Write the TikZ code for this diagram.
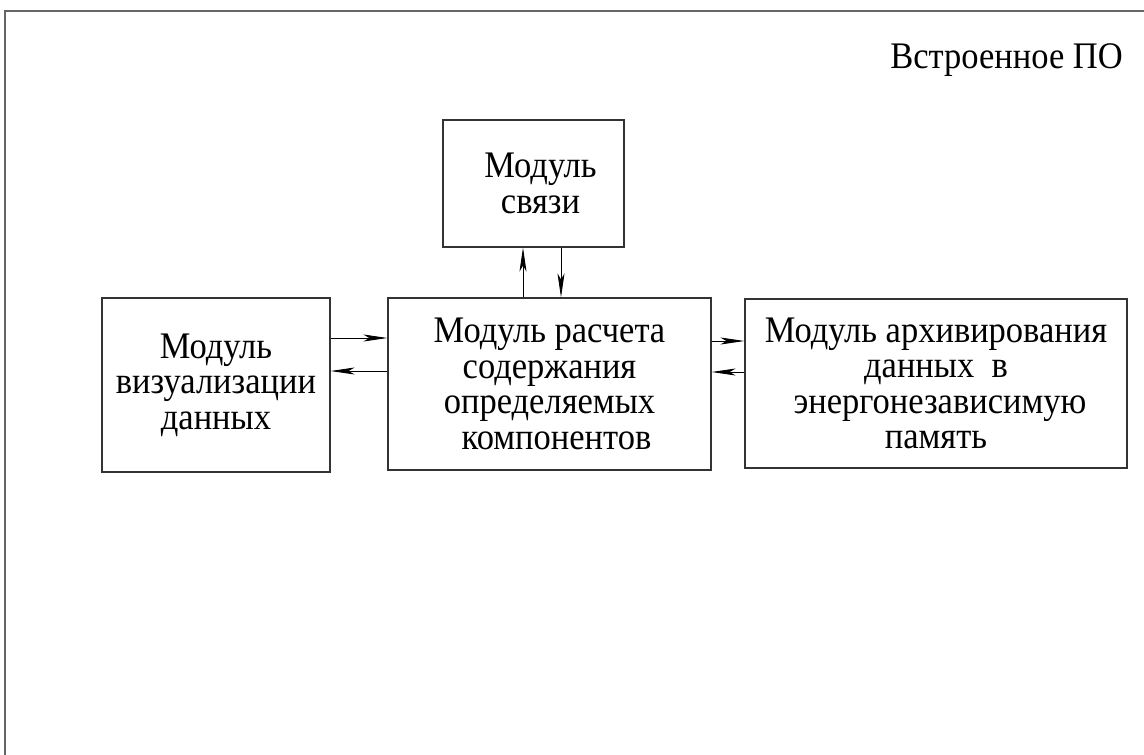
\documentclass[tikz,border=0pt]{standalone}
\usepackage{fontspec}
\setmainfont{Liberation Serif}[FakeStretch=0.92]
\usetikzlibrary{arrows.meta}
\begin{document}
\begin{tikzpicture}[x=1pt,y=-1pt,
  txt/.style={font=\fontsize{37.5}{35.5}\selectfont},
  box/.style={draw=black!80,line width=1.2pt,rectangle,inner sep=0pt,align=center,txt},
  arr/.style={line width=0.9pt,-{Stealth[length=24pt,width=7pt,inset=6pt]}},
  frame/.style={draw=black!60,line width=1.2pt}]
\useasboundingbox (0,0) rectangle (1144,755);
\coordinate (ftl) at (5,11);
\coordinate (ftr) at (1144,11);
\coordinate (fbl) at (5,755);
\draw[frame] (ftr) -- (ftl) -- (fbl);
\node[anchor=east,txt,inner sep=0pt] (title) at (1123,60) {Встроенное ПО};
\node[box,minimum width=181pt,minimum height=127pt] (comm) at (533.5,183.5) {\hspace*{14pt}Модуль\\\hspace*{14pt}связи};
\node[box,minimum width=228pt,minimum height=174pt] (vis) at (216,385) {Модуль\\визуализации\\данных};
\node[box,minimum width=323pt,minimum height=172pt] (calc) at (549.5,384) {Модуль расчета\\содержания\\определяемых\\\hspace*{14pt}компонентов};
\node[box,minimum width=382pt,minimum height=169pt] (arch) at (936,383.5) {Модуль архивирования\\данных\ \ в\\\hspace*{8pt}энергонезависимую\\память};
\draw[arr] (calc.north -| 523,0) -- (comm.south -| 523,0);
\draw[arr] (comm.south -| 561,0) -- (calc.north -| 561,0);
\draw[arr] (vis.east |- 0,338) -- (calc.west |- 0,338);
\draw[arr] (calc.west |- 0,371) -- (vis.east |- 0,371);
\draw[arr] (calc.east |- 0,341) -- (arch.west |- 0,341);
\draw[arr] (arch.west |- 0,372) -- (calc.east |- 0,372);
\end{tikzpicture}
\end{document}
